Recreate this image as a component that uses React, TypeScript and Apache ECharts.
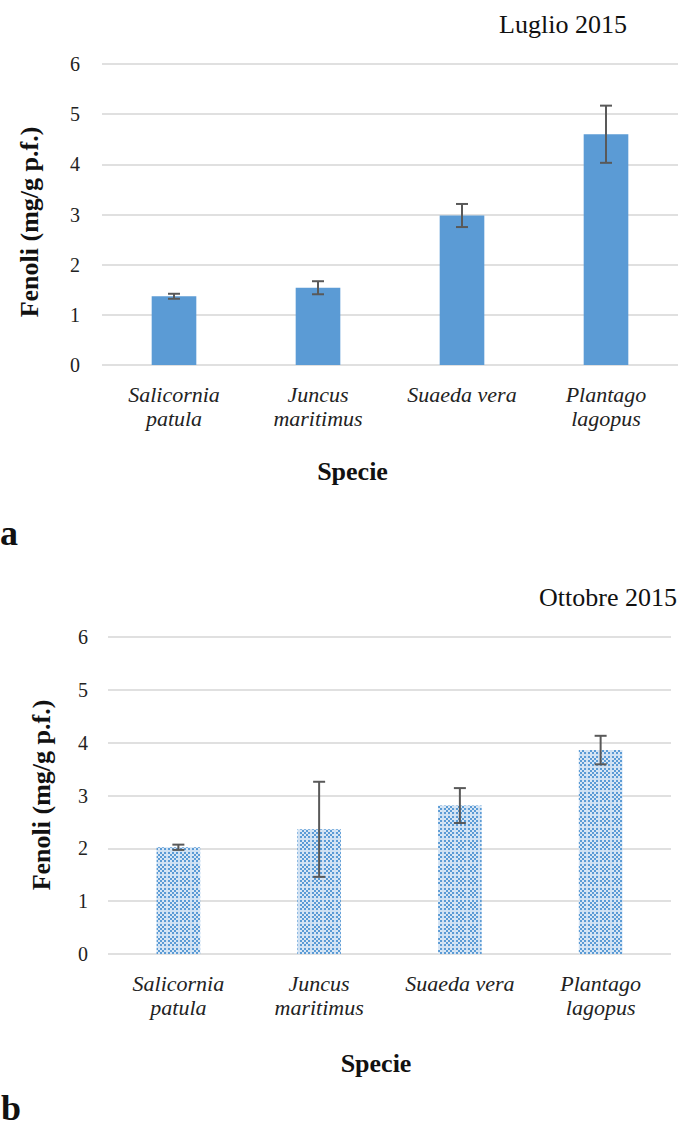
import { useEffect, useRef } from "react";
import * as echarts from "echarts";

// Species on the category axis (two-line names where the label wraps)
const species = ["Salicornia\npatula", "Juncus\nmaritimus", "Suaeda vera", "Plantago\nlagopus"];

// Phenol content, July 2015 (mean and error)
const luglioMean = [1.37, 1.54, 2.98, 4.6];
const luglioErr = [0.05, 0.13, 0.23, 0.57];

// Phenol content, October 2015 (mean and error)
const ottobreMean = [2.02, 2.36, 2.81, 3.86];
const ottobreErr = [0.05, 0.9, 0.33, 0.27];

const yMin = 0;
const yMax = 6;
const yStep = 1;

const SERIF = "'Liberation Serif', 'Times New Roman', serif";
const BAR_BLUE = "#5B9BD5";
const GRID_GREY = "#d6d6d6";
const ERR_GREY = "#595959";

// Small blue/white checker tile with paler seams, used as the October bar fill
function makeCheckerTile(): HTMLCanvasElement {
  const size = 12;
  const c = document.createElement("canvas");
  c.width = size;
  c.height = size;
  const ctx = c.getContext("2d")!;
  for (let y = 0; y < size; y++) {
    for (let x = 0; x < size; x++) {
      let col: string;
      if (x >= 10 || y >= 10) col = "#cfe1f3";
      else col = (Math.floor(x / 2) + Math.floor(y / 2)) % 2 === 0 ? "#5b9bd5" : "#d9e7f5";
      ctx.fillStyle = col;
      ctx.fillRect(x, y, 1, 1);
    }
  }
  return c;
}

function errorBarSeries(mean: number[], err: number[], axisIndex: number) {
  return {
    type: "custom",
    xAxisIndex: axisIndex,
    yAxisIndex: axisIndex,
    z: 5,
    data: mean.map((m, i) => [i, m - err[i], m + err[i]]),
    renderItem: (params: any, api: any) => {
      const lo = api.coord([api.value(0), api.value(1)]);
      const hi = api.coord([api.value(0), api.value(2)]);
      const half = 6;
      const style = { stroke: ERR_GREY, lineWidth: 2 };
      return {
        type: "group",
        children: [
          { type: "line", shape: { x1: hi[0], y1: hi[1], x2: lo[0], y2: lo[1] }, style },
          { type: "line", shape: { x1: hi[0] - half, y1: hi[1], x2: hi[0] + half, y2: hi[1] }, style },
          { type: "line", shape: { x1: lo[0] - half, y1: lo[1], x2: lo[0] + half, y2: lo[1] }, style },
        ],
      };
    },
  };
}

function categoryAxis(gridIndex: number) {
  return {
    type: "category",
    gridIndex,
    data: species,
    axisLine: { show: false },
    axisTick: { show: false },
    axisLabel: {
      interval: 0,
      margin: 17,
      fontFamily: SERIF,
      fontStyle: "italic",
      fontSize: 22,
      lineHeight: 24,
      color: "#222",
    },
  };
}

function valueAxis(gridIndex: number, margin: number) {
  return {
    type: "value",
    gridIndex,
    min: yMin,
    max: yMax,
    interval: yStep,
    axisLine: { show: false },
    axisTick: { show: false },
    axisLabel: { margin, fontFamily: SERIF, fontSize: 20, color: "#222" },
    splitLine: { lineStyle: { color: GRID_GREY, width: 1.5 } },
  };
}

function text(x: number, y: number, t: string, font: string, align = "center", rotation = 0) {
  return {
    type: "text",
    x,
    y,
    rotation,
    style: { text: t, font, fill: "#111", textAlign: align, textVerticalAlign: "middle" },
  };
}

export default function App() {
  const ref = useRef<HTMLDivElement>(null);

  useEffect(() => {
    if (!ref.current) return;
    const chart = echarts.init(ref.current, null, { renderer: "svg" });
    const tile = makeCheckerTile();

    chart.setOption({
      animation: false,
      backgroundColor: "#ffffff",
      grid: [
        { left: 102, top: 64, width: 576, height: 301 },
        { left: 108, top: 637, width: 563, height: 317 },
      ],
      xAxis: [categoryAxis(0), categoryAxis(1)],
      yAxis: [valueAxis(0, 22), valueAxis(1, 20)],
      series: [
        {
          type: "bar",
          xAxisIndex: 0,
          yAxisIndex: 0,
          data: luglioMean,
          barWidth: "31%",
          itemStyle: { color: BAR_BLUE },
        },
        errorBarSeries(luglioMean, luglioErr, 0),
        {
          type: "bar",
          xAxisIndex: 1,
          yAxisIndex: 1,
          data: ottobreMean,
          barWidth: "31%",
          itemStyle: {
            color: { image: tile, repeat: "repeat", imageWidth: tile.width, imageHeight: tile.height },
          },
        },
        errorBarSeries(ottobreMean, ottobreErr, 1),
      ],
      graphic: [
        text(563, 24.5, "Luglio 2015", `26px ${SERIF}`),
        text(677, 597, "Ottobre 2015", `26px ${SERIF}`, "right"),
        text(29, 222, "Fenoli (mg/g p.f.)", `bold 26px ${SERIF}`, "center", Math.PI / 2),
        text(41, 795, "Fenoli (mg/g p.f.)", `bold 26px ${SERIF}`, "center", Math.PI / 2),
        text(352.5, 471, "Specie", `bold 26px ${SERIF}`),
        text(376, 1063, "Specie", `bold 26px ${SERIF}`),
        text(0, 533, "a", `bold 36px ${SERIF}`, "left"),
        text(1, 1108, "b", `bold 36px ${SERIF}`, "left"),
      ],
    });

    return () => chart.dispose();
  }, []);

  return (
    <div
      ref={ref}
      style={{ position: "fixed", left: 0, top: 0, width: 678, height: 1129, background: "#fff" }}
    />
  );
}
